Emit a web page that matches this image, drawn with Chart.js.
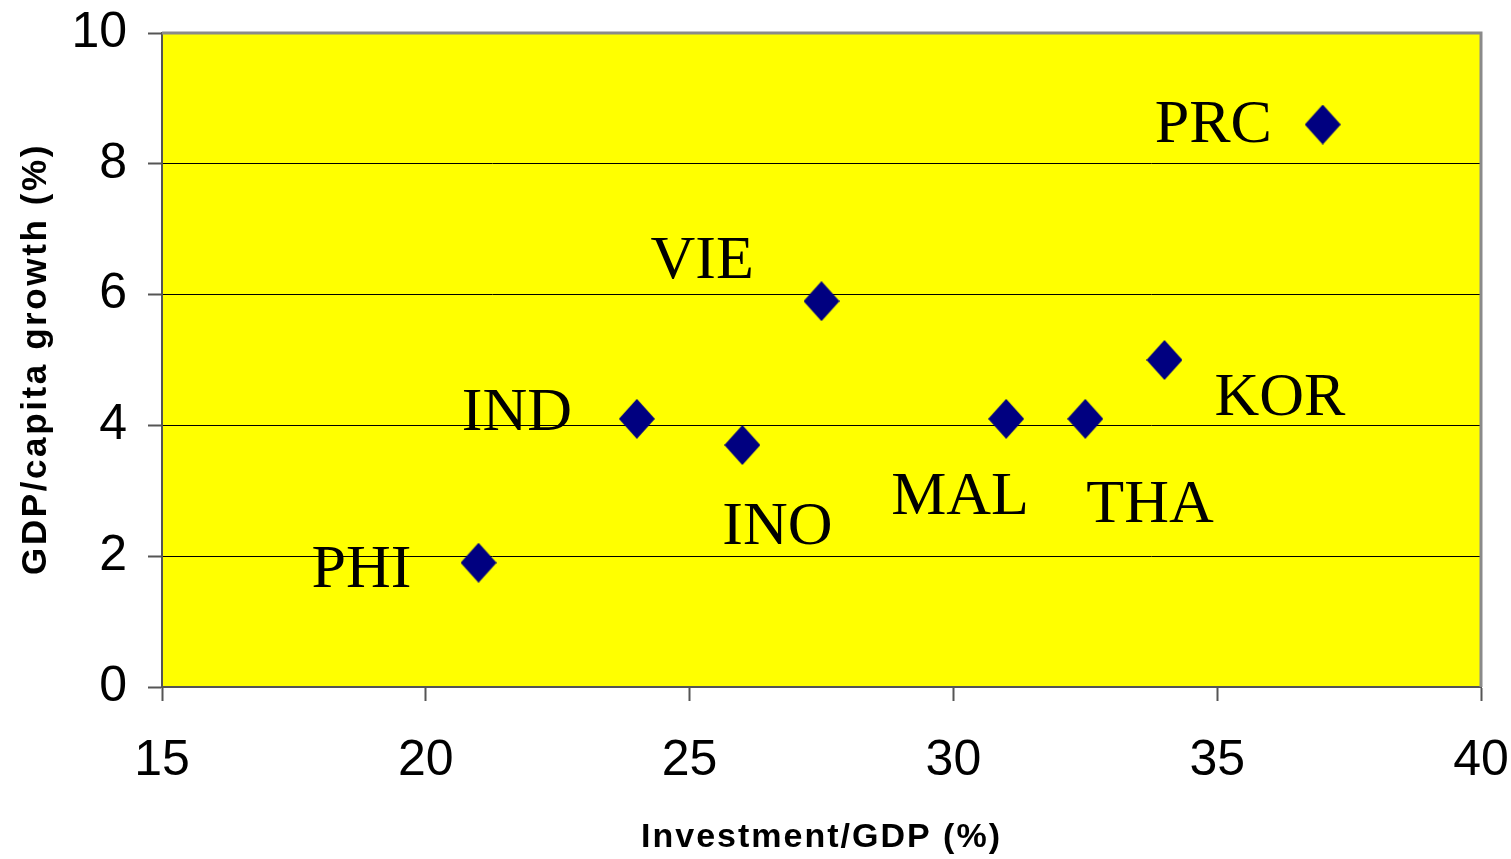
<!DOCTYPE html>
<html>
<head>
<meta charset="utf-8">
<script src="https://cdn.jsdelivr.net/npm/chart.js@4/dist/chart.umd.min.js"></script>
<style>
  html, body { margin: 0; padding: 0; background: #fff; }
  #box { width: 1511px; height: 859px; }
</style>
</head>
<body>
<div id="box"><canvas id="grafico"></canvas></div>
<script>
// Dados do gráfico
const paises = ['PRC', 'VIE', 'KOR', 'IND', 'INO', 'MAL', 'THA', 'PHI'];
const investimento = [37, 27.5, 34, 24, 26, 31, 32.5, 21];
const crescimento = [8.6, 5.9, 5.0, 4.1, 3.7, 4.1, 4.1, 1.9];
const ticksX = [15, 20, 25, 30, 35, 40];
const ticksY = [0, 2, 4, 6, 8, 10];

// Deslocamento dos rótulos (px, canto esquerdo / linha de base)
const rotuloDx = [-168, -171, 50, -175, -20, -115, 1, -167];
const rotuloDy = [17, -23, 55, 11, 99, 95, 103, 24];

// Marcador em losango (36 x 40)
function criarLosango() {
  const c = document.createElement('canvas');
  c.width = 36;
  c.height = 40;
  const g = c.getContext('2d');
  g.fillStyle = '#000080';
  g.beginPath();
  g.moveTo(18, 0);
  g.lineTo(36, 20);
  g.lineTo(18, 40);
  g.lineTo(0, 20);
  g.closePath();
  g.fill();
  return c;
}

// Zerar o espaço extra que a escala reserva para os rótulos
function semPadding(s) {
  s.paddingTop = 0;
  s.paddingBottom = 0;
  s.paddingLeft = 0;
  s.paddingRight = 0;
}

// Fundo amarelo e moldura da área do gráfico
const fundoPlugin = {
  id: 'fundo',
  beforeDraw(chart) {
    const { ctx, chartArea: a } = chart;
    ctx.save();
    ctx.fillStyle = '#FFFF00';
    ctx.fillRect(a.left, a.top, a.right - a.left, a.bottom - a.top);
    ctx.restore();
  },
  beforeDatasetsDraw(chart) {
    const { ctx, chartArea: a } = chart;
    ctx.save();
    ctx.strokeStyle = '#8a8a8a';
    ctx.lineWidth = 3;
    ctx.beginPath();
    ctx.moveTo(a.left, a.top);
    ctx.lineTo(a.right, a.top);
    ctx.lineTo(a.right, a.bottom);
    ctx.stroke();
    ctx.restore();
  }
};

// Rótulos dos países e títulos dos eixos
const textoPlugin = {
  id: 'texto',
  afterDatasetsDraw(chart) {
    const ctx = chart.ctx;
    const sx = chart.scales.x;
    const sy = chart.scales.y;
    ctx.save();
    ctx.fillStyle = '#000';
    ctx.font = '62px "Liberation Serif", "Times New Roman", serif';
    ctx.textAlign = 'left';
    ctx.textBaseline = 'alphabetic';
    paises.forEach((p, i) => {
      const px = sx.getPixelForValue(investimento[i]);
      const py = sy.getPixelForValue(crescimento[i]);
      ctx.fillText(p, px + rotuloDx[i], py + rotuloDy[i]);
    });
    ctx.restore();
  },
  afterDraw(chart) {
    const ctx = chart.ctx;
    const a = chart.chartArea;
    ctx.save();
    ctx.fillStyle = '#000';
    ctx.textAlign = 'center';
    ctx.textBaseline = 'middle';
    ctx.font = 'bold 34px "Liberation Sans", Arial, sans-serif';
    ctx.letterSpacing = '2px';
    ctx.fillText('Investment/GDP (%)', (a.left + a.right) / 2, 838);
    ctx.translate(36, 359);
    ctx.rotate(-Math.PI / 2);
    ctx.font = 'bold 35px "Liberation Sans", Arial, sans-serif';
    ctx.letterSpacing = '2.6px';
    ctx.fillText('GDP/capita growth (%)', 0, 0);
    ctx.restore();
  }
};

const ctx = document.getElementById('grafico').getContext('2d');

new Chart(ctx, {
  type: 'scatter',
  data: {
    datasets: [{
      label: 'Países',
      data: paises.map((p, i) => ({ x: investimento[i], y: crescimento[i] })),
      pointStyle: criarLosango(),
      pointRadius: 20,
      pointHoverRadius: 20
    }]
  },
  options: {
    responsive: true,
    maintainAspectRatio: false,
    animation: false,
    layout: {
      padding: { top: 33, right: 30, bottom: 0, left: 0 }
    },
    plugins: {
      legend: { display: false },
      tooltip: { enabled: false }
    },
    scales: {
      x: {
        type: 'linear',
        min: 15,
        max: 40,
        afterFit: (s) => { s.height = 172; semPadding(s); },
        afterBuildTicks: (s) => { s.ticks = ticksX.map(v => ({ value: v })); },
        ticks: {
          color: '#000',
          padding: 30,
          font: { family: '"Liberation Sans", Arial, sans-serif', size: 50 }
        },
        grid: {
          drawOnChartArea: false,
          tickLength: 14,
          tickColor: '#555',
          tickWidth: 2
        },
        border: { display: true, color: '#555', width: 2 }
      },
      y: {
        type: 'linear',
        min: 0,
        max: 10,
        afterFit: (s) => { s.width = 162; semPadding(s); },
        afterBuildTicks: (s) => { s.ticks = ticksY.map(v => ({ value: v })); },
        ticks: {
          color: '#000',
          padding: 21,
          font: { family: '"Liberation Sans", Arial, sans-serif', size: 50 }
        },
        grid: {
          color: '#000',
          lineWidth: 1,
          tickLength: 14,
          tickColor: '#555',
          tickWidth: 2
        },
        border: { display: true, color: '#555', width: 2 }
      }
    }
  },
  plugins: [fundoPlugin, textoPlugin]
});
</script>
</body>
</html>
